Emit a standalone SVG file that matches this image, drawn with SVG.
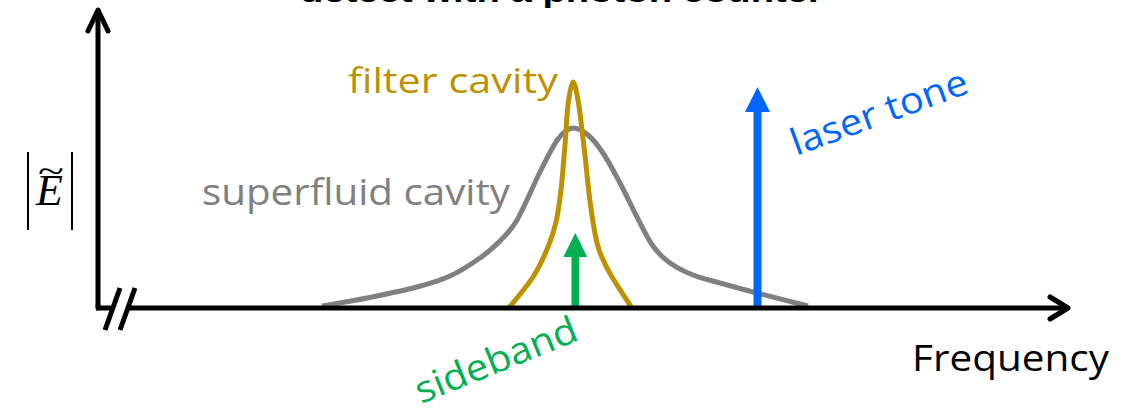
<svg xmlns="http://www.w3.org/2000/svg" width="1140" height="419" viewBox="0 0 1140 419">
<style>
.axis{fill:none;stroke:#000;stroke-width:5;stroke-linecap:round;stroke-linejoin:round}
.brk{fill:none;stroke:#000;stroke-width:5}
.curve{fill:none;stroke-width:5;stroke-linecap:butt;stroke-linejoin:round}
.lbl{font-family:"Open Sans","Noto Sans","Liberation Sans",sans-serif}
</style>
<rect width="1140" height="419" fill="#fff"/>
<g id="title">
<text class="lbl" x="300" y="2" font-size="30" font-weight="bold" fill="#000" textLength="523" lengthAdjust="spacingAndGlyphs" style="font-family:'Liberation Sans',Arial,sans-serif">detect with a photon counter</text>
</g>
<g id="superfluid-cavity">
<path class="curve" stroke="#808080" d="M322,306 C329.5,304.7 351.2,301.2 367,298 C382.8,294.8 403.2,290.7 417,287 C430.8,283.3 439.5,280.8 450,276 C460.5,271.2 471.7,263.8 480,258 C488.3,252.2 493.8,247.3 500,241 C506.2,234.7 510.3,231.5 517,220 C523.7,208.5 533.2,185.5 540,172 C546.8,158.5 552.5,146.3 558,139 C563.5,131.7 568,128 573,128 C578,128 583,130.8 588,135 C593,139.2 597.7,145 603,153 C608.3,161 614.3,172.3 620,183 C625.7,193.7 631.5,206.5 637,217 C642.5,227.5 647.5,238.3 653,246 C658.5,253.7 663.3,258.2 670,263 C676.7,267.8 684.7,271.7 693,275 C701.3,278.3 709.3,280 720,283 C730.7,286 742.3,289.2 757,293 C771.7,296.8 799.5,303.8 808,306"/>
<text class="lbl" x="202" y="205" font-size="37" fill="#808080" textLength="308" lengthAdjust="spacingAndGlyphs">superfluid cavity</text>
</g>
<g id="filter-cavity">
<path class="curve" stroke="#BF9000" d="M508,309 C512.2,303.7 526.3,287.3 533,277 C539.7,266.7 544.2,256.2 548,247 C551.8,237.8 553.8,231.5 556,222 C558.2,212.5 559.5,202.8 561,190 C562.5,177.2 563.8,159.2 565,145 C566.2,130.8 566.7,115.5 568,105 C569.3,94.5 571.3,82 573,82 C574.7,82 576.5,92 578,100 C579.5,108 580.7,119.2 582,130 C583.3,140.8 584.7,152.5 586,165 C587.3,177.5 588.5,191 590.5,205 C592.5,219 594.5,236 599,250 C603,261 606.5,267.5 612,277 C617.8,286.7 628.7,302.8 632,308"/>
<text class="lbl" x="348" y="93" font-size="34" fill="#BF9000" textLength="210" lengthAdjust="spacingAndGlyphs">filter cavity</text>
</g>
<g id="sideband">
<rect x="571.5" y="255" width="7.5" height="53" fill="#00B050"/>
<polygon points="575.3,233 563.3,257 587.3,257" fill="#00B050"/>
<text class="lbl" transform="translate(421,404) rotate(-22)" x="0" y="0" font-size="37" fill="#00B050" textLength="172" lengthAdjust="spacingAndGlyphs">sideband</text>
</g>
<g id="laser-tone">
<rect x="753.5" y="110" width="8" height="198" fill="#0066FF"/>
<polygon points="757.5,87 745,112 770,112" fill="#0066FF"/>
<text class="lbl" transform="translate(796,156) rotate(-20)" x="0" y="0" font-size="37" fill="#0066FF" textLength="186" lengthAdjust="spacingAndGlyphs">laser tone</text>
</g>
<g id="connectors">
<path class="axis" d="M98,306 L98,11"/>
<path class="axis" d="M88,31 L98,10 L108,31"/>
<path class="axis" d="M96,308 L112.5,308" style="stroke-linecap:butt"/>
<path class="axis" d="M128,308 L1066,308" style="stroke-linecap:butt"/>
<path class="axis" d="M98,308 L98,306"/>
<path class="axis" d="M1050,297 L1068,308 L1050,319"/>
<line class="brk" x1="120" y1="288" x2="105" y2="330"/>
<line class="brk" x1="135" y1="288" x2="120" y2="330"/>
</g>
<g id="y-label">
<line x1="28" y1="152" x2="28" y2="230" stroke="#000" stroke-width="2"/>
<line x1="72" y1="152" x2="72" y2="230" stroke="#000" stroke-width="2"/>
<text x="36" y="205" font-size="44" font-style="italic" fill="#000" style="font-family:'Liberation Serif','Times New Roman',serif">E</text>
<text transform="translate(38,182) scale(1.4,1)" x="0" y="0" font-size="34" fill="#000" style="font-family:'Liberation Serif','Times New Roman',serif">~</text>
</g>
<g id="x-label">
<text class="lbl" x="912" y="371" font-size="36" fill="#000" textLength="197" lengthAdjust="spacingAndGlyphs">Frequency</text>
</g>
</svg>
